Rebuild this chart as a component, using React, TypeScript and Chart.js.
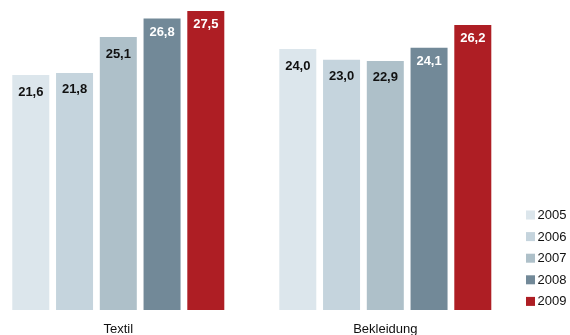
import React, { useEffect, useRef } from "react";
import { Chart, registerables } from "chart.js";

Chart.register(...registerables);

const categories = ["Textil", "Bekleidung"];
const years = ["2005", "2006", "2007", "2008", "2009"];
const values2005 = [21.6, 24.0];
const values2006 = [21.8, 23.0];
const values2007 = [25.1, 22.9];
const values2008 = [26.8, 24.1];
const values2009 = [27.5, 26.2];
const seriesValues = [values2005, values2006, values2007, values2008, values2009];

const colors = ["#dce6ec", "#c5d4dd", "#aec0c9", "#728998", "#ae1e24"];
const labelColors = ["#111", "#111", "#111", "#fff", "#fff"];
const labelOffsets = [17, 17, 17, 13.5, 13.5];
const FONT = "'Liberation Sans', Arial, Helvetica, sans-serif";

const fmt = (v: number) => v.toFixed(1).replace(".", ",");

const valueLabels = {
  id: "valueLabels",
  afterDatasetsDraw(chart: any) {
    const ctx = chart.ctx;
    ctx.save();
    ctx.font = `bold 13px ${FONT}`;
    ctx.textAlign = "center";
    ctx.textBaseline = "middle";
    chart.data.datasets.forEach((ds: any, di: number) => {
      const meta = chart.getDatasetMeta(di);
      meta.data.forEach((bar: any, i: number) => {
        ctx.fillStyle = labelColors[di];
        ctx.fillText(fmt(ds.data[i]), bar.x, bar.y + labelOffsets[di]);
      });
    });
    ctx.restore();
  },
};

const sideLegend = {
  id: "sideLegend",
  afterDraw(chart: any) {
    const ctx = chart.ctx;
    const w = chart.width;
    const boxX = w - 44;
    const firstY = 215;
    const step = 21.6;
    ctx.save();
    ctx.font = `13px ${FONT}`;
    ctx.textAlign = "left";
    ctx.textBaseline = "middle";
    chart.data.datasets.forEach((ds: any, di: number) => {
      const cy = firstY + di * step;
      ctx.fillStyle = ds.backgroundColor;
      ctx.fillRect(boxX, cy - 4.5, 9, 9);
      ctx.fillStyle = "#111";
      ctx.fillText(ds.label, boxX + 11.5, cy + 0.5);
    });
    ctx.restore();
  },
};

export default function App() {
  const ref = useRef<HTMLCanvasElement | null>(null);
  useEffect(() => {
    if (!ref.current) return;
    const chart = new Chart(ref.current, {
      type: "bar",
      data: {
        labels: categories,
        datasets: years.map((y, i) => ({
          label: y,
          data: seriesValues[i],
          backgroundColor: colors[i],
          borderWidth: 0,
          clip: false as any,
          categoryPercentage: 0.8193,
          barPercentage: 0.8457,
        })),
      },
      options: {
        responsive: false,
        animation: false,
        layout: { padding: { left: 118.3, right: 184.7, top: 0, bottom: 0 } },
        plugins: { legend: { display: false }, tooltip: { enabled: false } },
        scales: {
          x: {
            type: "category",
            offset: false,
            grid: { display: false },
            border: { display: false },
            ticks: {
              color: "#111",
              font: { family: FONT, size: 13 },
              padding: 4,
              maxRotation: 0,
              autoSkip: false,
            },
            afterFit: (s: any) => {
              s.height = 25;
            },
          },
          y: {
            display: false,
            min: 0,
            max: 28.5,
          },
        },
      },
      plugins: [valueLabels, sideLegend],
    });
    return () => chart.destroy();
  }, []);
  return (
    <div style={{ position: "absolute", left: 0, top: 0, width: 570, height: 335, background: "#fff" }}>
      <canvas ref={ref} width={570} height={335} style={{ display: "block" }} />
    </div>
  );
}
